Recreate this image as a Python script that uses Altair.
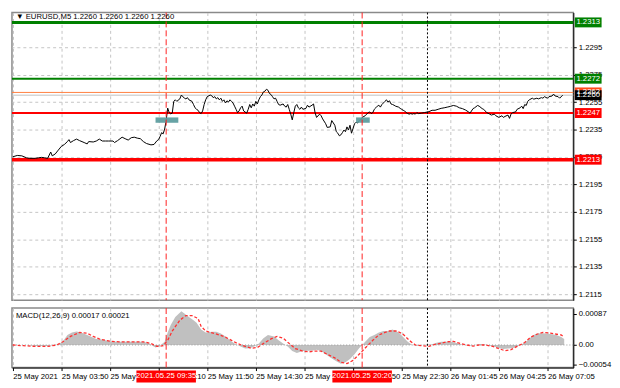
import altair as alt
import pandas as pd

FONT = "Liberation Sans"

# ---------------- price series (M5 bar index -> close) ----------------
bars = [0, 3, 6, 9, 11, 15, 17, 19, 21, 23, 25, 26, 28, 30, 32, 34, 36, 37, 38, 40,
        42, 44, 47, 49, 50, 53, 55, 57, 59, 61, 63, 66, 67, 69, 72, 74, 76, 78, 80, 82,
        84, 86, 88, 91, 93, 95, 96, 97, 98, 99, 100, 101, 102, 103, 104, 105, 106, 107, 108, 110,
        111, 113, 114, 115, 116, 118, 119, 120, 121, 122, 123, 124, 125, 126, 127, 128, 130, 131, 132, 133,
        134, 135, 136, 137, 138, 139, 140, 141, 142, 143, 144, 145, 146, 147, 148, 149, 150, 151, 152, 154,
        155, 156, 157, 158, 159, 160, 161, 162, 163, 164, 165, 166, 167, 168, 169, 170, 171, 172, 173, 174,
        175, 176, 178, 179, 180, 181, 182, 183, 184, 185, 186, 187, 188, 189, 190, 191, 193, 194, 195, 197,
        198, 199, 200, 202, 203, 204, 206, 207, 209, 210, 212, 213, 214, 215, 216, 217, 218, 219, 220, 221,
        222, 223, 224, 225, 226, 227, 228, 229, 230, 232, 233, 234, 235, 236, 237, 238, 239, 240, 241, 242,
        243, 244, 245, 246, 247, 248, 249, 250, 251, 252, 254, 255, 256, 257, 258, 259, 260, 261, 262, 263,
        264, 265, 266, 267, 269, 271, 274, 276, 278, 280, 282, 284, 286, 288, 290, 292, 294, 296, 298, 300,
        301, 303, 304, 306, 307, 309, 310, 312, 314, 315, 317, 318, 320, 322, 323, 324, 326, 327, 328, 329,
        331, 332, 334, 335, 336, 337, 338, 339, 340, 342, 343, 345, 346, 348, 349, 350, 352, 353, 355, 356,
        357, 359, 360, 362]
closes = [1.22151, 1.22161, 1.22158, 1.22144, 1.22140, 1.22140, 1.22144, 1.22147, 1.22144, 1.22140,
          1.22186, 1.22158, 1.22172, 1.22200, 1.22227, 1.22241, 1.22262, 1.22276, 1.22255, 1.22269,
          1.22280, 1.22269, 1.22255, 1.22245, 1.22262, 1.22259, 1.22266, 1.22280, 1.22266, 1.22266,
          1.22266, 1.22266, 1.22255, 1.22269, 1.22294, 1.22283, 1.22273, 1.22290, 1.22294, 1.22287,
          1.22283, 1.22262, 1.22248, 1.22238, 1.22241, 1.22269, 1.22276, 1.22299, 1.22327, 1.22318,
          1.22353, 1.22415, 1.22506, 1.22473, 1.22464, 1.22469, 1.22555, 1.22566, 1.22555, 1.22573,
          1.22601, 1.22578, 1.22573, 1.22582, 1.22566, 1.22555, 1.22532, 1.22508, 1.22497, 1.22490,
          1.22473, 1.22466, 1.22485, 1.22532, 1.22566, 1.22589, 1.22601, 1.22596, 1.22582, 1.22589,
          1.22573, 1.22582, 1.22566, 1.22578, 1.22555, 1.22566, 1.22543, 1.22559, 1.22550, 1.22566,
          1.22555, 1.22543, 1.22520, 1.22497, 1.22473, 1.22485, 1.22508, 1.22520, 1.22485, 1.22469,
          1.22497, 1.22532, 1.22508, 1.22536, 1.22520, 1.22555, 1.22536, 1.22566, 1.22589, 1.22601,
          1.22624, 1.22629, 1.22643, 1.22636, 1.22612, 1.22605, 1.22589, 1.22573, 1.22578, 1.22555,
          1.22532, 1.22527, 1.22536, 1.22520, 1.22513, 1.22532, 1.22497, 1.22462, 1.22420, 1.22473,
          1.22520, 1.22532, 1.22508, 1.22497, 1.22513, 1.22497, 1.22504, 1.22527, 1.22513, 1.22527,
          1.22536, 1.22473, 1.22438, 1.22462, 1.22450, 1.22427, 1.22392, 1.22365, 1.22369, 1.22415,
          1.22381, 1.22334, 1.22323, 1.22304, 1.22311, 1.22327, 1.22346, 1.22334, 1.22369, 1.22346,
          1.22381, 1.22323, 1.22358, 1.22392, 1.22403, 1.22397, 1.22415, 1.22420, 1.22438, 1.22450,
          1.22462, 1.22473, 1.22478, 1.22466, 1.22473, 1.22497, 1.22508, 1.22520, 1.22527, 1.22513,
          1.22532, 1.22543, 1.22555, 1.22566, 1.22550, 1.22559, 1.22536, 1.22532, 1.22527, 1.22520,
          1.22513, 1.22504, 1.22497, 1.22490, 1.22485, 1.22473, 1.22466, 1.22462, 1.22466, 1.22462,
          1.22466, 1.22462, 1.22473, 1.22466, 1.22469, 1.22473, 1.22480, 1.22490, 1.22490, 1.22497,
          1.22504, 1.22508, 1.22513, 1.22518, 1.22525, 1.22520, 1.22508, 1.22502, 1.22492, 1.22478,
          1.22469, 1.22502, 1.22508, 1.22525, 1.22520, 1.22502, 1.22497, 1.22473, 1.22462, 1.22455,
          1.22462, 1.22450, 1.22438, 1.22450, 1.22438, 1.22445, 1.22455, 1.22431, 1.22462, 1.22473,
          1.22478, 1.22497, 1.22508, 1.22520, 1.22502, 1.22532, 1.22525, 1.22555, 1.22566, 1.22578,
          1.22571, 1.22578, 1.22573, 1.22582, 1.22578, 1.22589, 1.22578, 1.22589, 1.22594, 1.22608,
          1.22594, 1.22589, 1.22578, 1.22600]

# ---------------- MACD(12,26,9) ----------------
hist_bars = [0, 9, 15, 23, 30, 33, 36, 39, 42, 45, 49, 52, 55, 58, 61, 65, 70, 78, 86, 90,
             92, 94, 96, 98, 100, 102, 104, 107, 111, 113, 116, 119, 121, 124, 127, 131, 134, 137, 140, 143,
             146, 150, 153, 156, 159, 162, 165, 168, 172, 175, 178, 181, 184, 187, 191, 194, 197, 200, 203, 206,
             209, 213, 216, 219, 222, 225, 228, 232, 235, 238, 241, 244, 247, 250, 254, 257, 260, 263, 266, 269,
             276, 279, 282, 285, 288, 291, 295, 298, 301, 304, 307, 310, 314, 317, 320, 323, 326, 329, 332, 336,
             339, 342, 345, 348, 351, 355, 358, 361, 363]
hist_vals = [0.0, 0.0, -0.00003, -0.00003, 0.00002, 0.00010, 0.00028, 0.00035, 0.00038, 0.00035,
             0.00028, 0.00022, 0.00017, 0.00016, 0.00013, 0.00010, 0.00009, 0.00009, 0.00009, 0.00004,
             -0.00002, -0.00007, -0.00004, 0.00002, 0.00009, 0.00035, 0.00056, 0.00078, 0.00094, 0.00088,
             0.00078, 0.00069, 0.00062, 0.00043, 0.00035, 0.00037, 0.00037, 0.00032, 0.00024, 0.00013,
             0.00004, -0.00004, -0.00010, -0.00009, -0.00004, 0.00004, 0.00019, 0.00028, 0.00024, 0.00013,
             0.00004, -0.00004, -0.00017, -0.00022, -0.00017, -0.00016, -0.00016, -0.00013, -0.00017, -0.00026,
             -0.00035, -0.00045, -0.00052, -0.00048, -0.00039, -0.00026, -0.00009, 0.00009, 0.00022, 0.00028,
             0.00035, 0.00039, 0.00039, 0.00043, 0.00035, 0.00022, 0.00009, 0.0, -0.00002, 0.0,
             0.00002, 0.00006, 0.00009, 0.00009, 0.00010, 0.00007, 0.00002, 0.0, -0.00002, 0.0,
             0.00002, 0.00002, -0.00002, -0.00004, -0.00009, -0.00011, -0.00010, -0.00009, -0.00004, 0.00004,
             0.00013, 0.00026, 0.00032, 0.00033, 0.00032, 0.00030, 0.00028, 0.00022, 0.00017]
sig_bars = [0, 7, 15, 23, 29, 33, 38, 44, 49, 53, 57, 61, 65, 70, 78, 86, 91, 95, 99, 102,
            105, 110, 114, 118, 122, 124, 127, 132, 136, 140, 144, 148, 153, 157, 161, 165, 170, 174, 178, 182,
            186, 191, 195, 199, 203, 207, 212, 216, 220, 224, 228, 233, 237, 241, 245, 248, 253, 257, 261, 265,
            269, 274, 278, 282, 286, 290, 295, 299, 303, 307, 311, 316, 320, 324, 328, 332, 337, 341, 345, 349,
            354, 358, 361, 363]
sig_vals = [0.0, -0.00002, -0.00004, -0.00004, 0.0, 0.00009, 0.00024, 0.00035, 0.00033, 0.00024,
            0.00017, 0.00013, 0.00010, 0.00009, 0.00009, 0.00009, 0.00004, -0.00004, -0.00002, 0.00013,
            0.00039, 0.00069, 0.00082, 0.00082, 0.00074, 0.00052, 0.00039, 0.00033, 0.00028, 0.00022,
            0.00013, 0.00004, -0.00004, -0.00009, -0.00007, 0.00004, 0.00017, 0.00024, 0.00019, 0.00004,
            -0.00010, -0.00017, -0.00019, -0.00017, -0.00017, -0.00026, -0.00036, -0.00048, -0.00052, -0.00043,
            -0.00026, -0.00004, 0.00013, 0.00028, 0.00035, 0.00039, 0.00039, 0.00030, 0.00013, 0.0,
            -0.00002, -0.00004, 0.00002, 0.00005, 0.00009, 0.00010, 0.00004, 0.0, -0.00003, 0.0,
            0.0, -0.00004, -0.00010, -0.00016, -0.00013, -0.00004, 0.00007, 0.00022, 0.00030, 0.00035,
            0.00033, 0.00030, 0.00028, 0.00022]

# ---------------- levels, markers, labels ----------------
level_prices = [1.2313, 1.2272, 1.2247, 1.2213]
level_colors = ["#008000", "#008000", "#ff0000", "#ff0000"]
level_widths = [3, 2, 2, 3.5]
quote_prices = [1.2262, 1.2260]          # ask, bid
quote_colors = ["#ff8040", "#c0c0c0"]
quote_box_colors = ["#ff4a1a", "#000000"]

signal_bars = [101, 230]
signal_labels = ["2021.05.25 09:35", "2021.05.25 20:20"]
day_sep_bars = [273]

entry_x0 = [94, 226]
entry_x1 = [109, 235]
entry_lo = [1.22399, 1.22399]
entry_hi = [1.22438, 1.22438]

time_tick_bars = [0, 32, 64, 96, 128, 160, 192, 224, 256, 288, 320, 352]
time_tick_labels = ["25 May 2021", "25 May 03:50", "25 May 06:30", "25 May 09:10",
                    "25 May 11:50", "25 May 14:30", "25 May 17:10", "25 May 19:50",
                    "25 May 22:30", "26 May 01:45", "26 May 04:25", "26 May 07:05"]
price_ticks = [1.2115, 1.2135, 1.2155, 1.2175, 1.2195, 1.2215, 1.2235, 1.2255, 1.2275, 1.2295]
macd_ticks = [-0.00054, 0.0, 0.00087]

header_text = "\u25bc EURUSD,M5  1.2260 1.2260 1.2260 1.2260"
macd_text = "MACD(12,26,9) 0.00017 0.00021"

# ---------------- chart ----------------
W, H1, H2 = 566, 290, 60
LBL = 7.8

xs = alt.Scale(domain=[-0.5, 369], nice=False, zero=False)
ys = alt.Scale(domain=[1.21107, 1.23202], nice=False, zero=False)
ms = alt.Scale(domain=[-0.00063, 0.00103], nice=False, zero=False)

grid_kw = dict(gridColor="#c4c4c4", gridDash=[3, 3], gridWidth=1)
lab_kw = dict(labelFont=FONT, labelFontSize=LBL, labelColor="#000", labelOverlap=False)

x_main = alt.X("bar:Q", scale=xs, title=None,
               axis=alt.Axis(values=time_tick_bars, labels=False, ticks=False, domain=False,
                             grid=True, **grid_kw))
y_main = alt.Y("price:Q", scale=ys, title=None,
               axis=alt.Axis(orient="right", values=price_ticks, format=".4f", tickSize=3,
                             tickColor="#000", domainColor="#000", labelPadding=2,
                             grid=True, **grid_kw, **lab_kw))

price_df = pd.DataFrame({"bar": bars, "price": closes})
levels_df = pd.DataFrame({"price": level_prices, "color": level_colors, "w": level_widths})
quotes_df = pd.DataFrame({"price": quote_prices, "color": quote_colors})
entry_df = pd.DataFrame({"bar": entry_x0, "bar2": entry_x1, "price": entry_lo, "price2": entry_hi})
sig_df = pd.DataFrame({"bar": signal_bars, "label": signal_labels})
day_df = pd.DataFrame({"bar": day_sep_bars})

box_prices = [level_prices[0], level_prices[1], quote_prices[0], quote_prices[1],
              level_prices[2], level_prices[3]]
box_fill = [level_colors[0], level_colors[1], quote_box_colors[0], quote_box_colors[1],
            level_colors[2], level_colors[3]]
box_df = pd.DataFrame({"price": box_prices, "fill": box_fill,
                       "label": [f"{p:.4f}" for p in box_prices],
                       "order": list(range(len(box_prices)))})

PRICE_BOX = "M-1.35,-0.5L1.35,-0.5L1.35,0.5L-1.35,0.5Z"
TIME_BOX = "M-3.0,-0.6L3.0,-0.6L3.0,0.6L-3.0,0.6Z"

levels = alt.Chart(levels_df).mark_rule().encode(
    y=y_main, color=alt.Color("color:N", scale=None),
    strokeWidth=alt.StrokeWidth("w:Q", scale=None))
quotes = alt.Chart(quotes_df).mark_rule(strokeWidth=1).encode(
    y=y_main, color=alt.Color("color:N", scale=None))
line = alt.Chart(price_df).mark_line(color="#000", strokeWidth=1).encode(x=x_main, y=y_main)
entries = alt.Chart(entry_df).mark_rect(color="#5f9ea0", opacity=0.95).encode(
    x=x_main, x2="bar2:Q", y=y_main, y2="price2:Q")
vsig = alt.Chart(sig_df).mark_rule(color="#ff2020", strokeDash=[6, 3], strokeWidth=1).encode(x=x_main)
vday = alt.Chart(day_df).mark_rule(color="#000", strokeDash=[2, 2], strokeWidth=1).encode(x=x_main)
boxes = alt.Chart(box_df).mark_point(shape=PRICE_BOX, size=400, filled=True, opacity=1,
                                     strokeWidth=0).encode(
    x=alt.value(W + 15), y=y_main, fill=alt.Fill("fill:N", scale=None),
    order=alt.Order("order:Q"))
box_text = alt.Chart(box_df).mark_text(color="#fff", font=FONT, fontSize=LBL, align="center",
                                       baseline="middle").encode(
    x=alt.value(W + 15), y=y_main, text="label:N", order=alt.Order("order:Q"))
header = alt.Chart(pd.DataFrame({"t": [header_text]})).mark_text(
    align="left", baseline="middle", font=FONT, fontSize=LBL, color="#000").encode(
    x=alt.value(4), y=alt.value(5), text="t:N")

main = alt.layer(levels, quotes, line, entries, vsig, vday, boxes, box_text, header).properties(
    width=W, height=H1)

# MACD panel
lab_js = "[" + ",".join("'" + s + "'" for s in time_tick_labels) + "]"
tick_js = "[" + ",".join(str(b) for b in time_tick_bars) + "]"
x_macd = alt.X("bar:Q", scale=xs, title=None,
               axis=alt.Axis(values=time_tick_bars,
                             labelExpr=f"{lab_js}[indexof({tick_js}, datum.value)]",
                             labelAlign="left", labelBaseline="top", labelPadding=2, tickSize=3,
                             tickColor="#000", domainColor="#000", labelFlush=False,
                             grid=True, **grid_kw, **lab_kw))
y_macd = alt.Y("val:Q", scale=ms, title=None,
               axis=alt.Axis(orient="right", values=macd_ticks,
                             labelExpr="datum.value == 0 ? '0.00' : format(datum.value, '.5f')",
                             tickSize=3, tickColor="#000", domainColor="#000", labelPadding=2,
                             grid=False, **lab_kw))

hist_df = pd.DataFrame({"bar": hist_bars, "val": hist_vals})
sigl_df = pd.DataFrame({"bar": sig_bars, "val": sig_vals})
zero_df = pd.DataFrame({"val": [0.0]})

hist = alt.Chart(hist_df).mark_area(color="#c0c0c0", opacity=1).encode(
    x=x_macd, y=y_macd, y2=alt.datum(0))
zero = alt.Chart(zero_df).mark_rule(color="#9a9a9a", strokeDash=[1, 2]).encode(y=y_macd)
sigline = alt.Chart(sigl_df).mark_line(color="#ff3030", strokeDash=[3, 2], strokeWidth=1.3).encode(
    x=x_macd, y=y_macd)
vsig2 = alt.Chart(sig_df).mark_rule(color="#ff2020", strokeDash=[6, 3], strokeWidth=1).encode(x=x_macd)
vday2 = alt.Chart(day_df).mark_rule(color="#000", strokeDash=[2, 2], strokeWidth=1).encode(x=x_macd)
tbox = alt.Chart(sig_df).mark_point(shape=TIME_BOX, size=400, filled=True, opacity=1,
                                    color="#ff0000", strokeWidth=0).encode(
    x=x_macd, y=alt.value(H2 + 9))
tbox_text = alt.Chart(sig_df).mark_text(color="#fff", font=FONT, fontSize=LBL, align="center",
                                        baseline="middle").encode(
    x=x_macd, y=alt.value(H2 + 9), text="label:N")
macd_label = alt.Chart(pd.DataFrame({"t": [macd_text]})).mark_text(
    align="left", baseline="middle", font=FONT, fontSize=LBL, color="#000").encode(
    x=alt.value(4), y=alt.value(8), text="t:N")

macd = alt.layer(hist, zero, sigline, vsig2, vday2, tbox, tbox_text, macd_label).properties(
    width=W, height=H2)

chart = alt.vconcat(main, macd, spacing=4).resolve_scale(
    x="independent", y="independent").properties(
    padding={"left": 1, "top": 1, "right": 0, "bottom": 0}, background="#ffffff"
).configure_view(stroke="#8a8a8a", strokeWidth=1.5)

chart.save("out.html", embed_options={"renderer": "svg", "actions": False})
